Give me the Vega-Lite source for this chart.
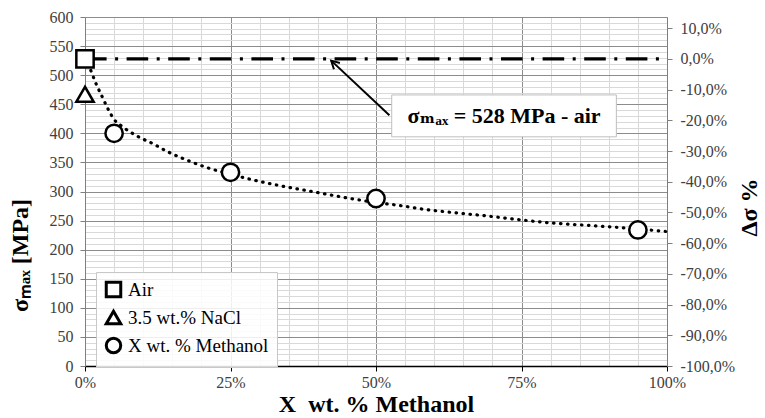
{
  "$schema": "https://vega.github.io/schema/vega-lite/v6.json",
  "width": 582,
  "height": 349,
  "autosize": {"type": "none"},
  "padding": {"left": 85, "top": 17, "right": 98, "bottom": 52},
  "background": "white",
  "config": {
    "font": "Liberation Serif",
    "view": {"stroke": null},
    "axis": {
      "labelFont": "Liberation Serif",
      "labelFontSize": 16,
      "labelColor": "#404040",
      "titleFont": "Liberation Serif",
      "titleFontSize": 24,
      "titleFontWeight": "bold",
      "titleColor": "black",
      "tickColor": "#7f7f7f",
      "domainColor": "#7f7f7f",
      "tickSize": 5
    },
    "legend": {
      "symbolFillColor": "white",
      "symbolStrokeColor": "black",
      "symbolStrokeWidth": 3,
      "symbolOpacity": 1
    }
  },
  "datasets": {
    "pts": [
      {"series": "Air", "x": 0, "y": 528},
      {"series": "3.5 wt.% NaCl", "x": 0, "y": 467},
      {"series": "X wt. % Methanol", "x": 5, "y": 400},
      {"series": "X wt. % Methanol", "x": 25, "y": 333},
      {"series": "X wt. % Methanol", "x": 50, "y": 288},
      {"series": "X wt. % Methanol", "x": 95, "y": 234}
    ],
    "airline": [
      {"x": 0, "y": 528},
      {"x": 100, "y": 528}
    ],
    "trend": [
      {"x": 1, "y": 508},
      {"x": 2, "y": 483},
      {"x": 3, "y": 462},
      {"x": 4, "y": 441},
      {"x": 5, "y": 424},
      {"x": 6.5, "y": 411},
      {"x": 9, "y": 395},
      {"x": 11.5, "y": 383},
      {"x": 14.5, "y": 367},
      {"x": 17.5, "y": 354},
      {"x": 21, "y": 341},
      {"x": 24.5, "y": 331},
      {"x": 28, "y": 322},
      {"x": 33, "y": 311},
      {"x": 39, "y": 300},
      {"x": 45, "y": 289},
      {"x": 50, "y": 281},
      {"x": 54, "y": 276},
      {"x": 58.5, "y": 269},
      {"x": 63, "y": 264},
      {"x": 69, "y": 258},
      {"x": 75, "y": 251},
      {"x": 80, "y": 246},
      {"x": 86, "y": 242},
      {"x": 92, "y": 238},
      {"x": 100, "y": 231}
    ],
    "note": [
      {"x1": 52.7, "x2": 91.3, "y1": 394, "y2": 466, "xt": 72, "yt": 429, "label": "σₘₐₓ = 528 MPa - air", "ax1": 52.3, "ay1": 431, "ax2": 42.3, "ay2": 525}
    ],
    "right": [
      {"v": -100},
      {"v": 10}
    ]
  },
  "layer": [
    {
      "layer": [
        {
          "data": {"name": "pts"},
          "mark": {"type": "point", "opacity": 0},
          "encoding": {
            "x": {
              "field": "x", "type": "quantitative",
              "scale": {"domain": [0, 100], "nice": false, "zero": false},
              "axis": {
                "orient": "bottom",
                "values": [0,5,10,15,20,25,30,35,40,45,50,55,60,65,70,75,80,85,90,95,100],
                "grid": true, "gridColor": "#d9d9d9", "gridWidth": 1,
                "labels": false, "ticks": false, "domain": false, "title": null
              }
            },
            "y": {
              "field": "y", "type": "quantitative",
              "scale": {"domain": [0, 600], "nice": false, "zero": false},
              "axis": {
                "orient": "left",
                "values": [0,10,20,30,40,50,60,70,80,90,100,110,120,130,140,150,160,170,180,190,200,210,220,230,240,250,260,270,280,290,300,310,320,330,340,350,360,370,380,390,400,410,420,430,440,450,460,470,480,490,500,510,520,530,540,550,560,570,580,590,600],
                "grid": true, "gridColor": "#d9d9d9", "gridWidth": 1,
                "labels": false, "ticks": false, "domain": false, "title": null
              }
            }
          }
        },
        {
          "data": {"name": "pts"},
          "mark": {"type": "point", "opacity": 0},
          "encoding": {
            "x": {
              "field": "x", "type": "quantitative",
              "axis": {
                "orient": "bottom",
                "values": [0, 25, 50, 75, 100],
                "labelExpr": "datum.value + '%'",
                "labelFlush": false,
                "grid": true, "gridColor": "#8c8c8c", "gridWidth": 1,
                "domainColor": "black", "domainWidth": 1.5, "tickColor": "black",
                "labelPadding": 3,
                "title": "X\u00a0\u00a0wt. % Methanol",
                "titlePadding": 2
              }
            },
            "y": {
              "field": "y", "type": "quantitative",
              "axis": {
                "orient": "left",
                "values": [0, 50, 100, 150, 200, 250, 300, 350, 400, 450, 500, 550, 600],
                "grid": true, "gridColor": "#8c8c8c", "gridWidth": 1,
                "labelPadding": 7,
                "title": "σₘₐₓ [MPa]",
                "titleAngle": 270,
                "titleX": -65,
                "titleY": 238,
                "titleAlign": "center",
                "titleBaseline": "middle"
              }
            }
          }
        },
        {
          "data": {"name": "airline"},
          "mark": {"type": "line", "color": "black", "strokeWidth": 3.3, "strokeDash": [21.6, 8.5, 3, 8.5]},
          "encoding": {
            "x": {"field": "x", "type": "quantitative", "axis": null},
            "y": {"field": "y", "type": "quantitative", "axis": null}
          }
        },
        {
          "data": {"name": "trend"},
          "mark": {"type": "line", "color": "black", "strokeWidth": 3.2, "strokeCap": "round", "strokeDash": [0.5, 6.5], "interpolate": "monotone"},
          "encoding": {
            "x": {"field": "x", "type": "quantitative", "axis": null},
            "y": {"field": "y", "type": "quantitative", "axis": null}
          }
        },
        {
          "data": {"name": "note"},
          "mark": {"type": "rule", "color": "black", "strokeWidth": 2},
          "encoding": {
            "x": {"field": "ax1", "type": "quantitative", "axis": null},
            "y": {"field": "ay1", "type": "quantitative", "axis": null},
            "x2": {"field": "ax2"},
            "y2": {"field": "ay2"}
          }
        },
        {
          "data": {"name": "note"},
          "mark": {"type": "point", "shape": "M-0.55,1L0,0L0.55,1", "filled": false, "stroke": "black", "strokeWidth": 2, "size": 250, "angle": 313.5, "opacity": 1},
          "encoding": {
            "x": {"field": "ax2", "type": "quantitative", "axis": null},
            "y": {"field": "ay2", "type": "quantitative", "axis": null}
          }
        },
        {
          "data": {"name": "note"},
          "mark": {"type": "rect", "fill": "white", "stroke": "#bfbfbf", "strokeWidth": 1},
          "encoding": {
            "x": {"field": "x1", "type": "quantitative", "axis": null},
            "x2": {"field": "x2"},
            "y": {"field": "y1", "type": "quantitative", "axis": null},
            "y2": {"field": "y2"}
          }
        },
        {
          "data": {"name": "note"},
          "mark": {"type": "text", "font": "Liberation Serif, DejaVu Serif, serif", "fontSize": 22, "fontWeight": "bold", "color": "black", "baseline": "middle", "align": "center"},
          "encoding": {
            "x": {"field": "xt", "type": "quantitative", "axis": null},
            "y": {"field": "yt", "type": "quantitative", "axis": null},
            "text": {"field": "label"}
          }
        },
        {
          "data": {"name": "pts"},
          "mark": {"type": "point", "filled": false, "fill": "white", "strokeWidth": 2.5, "size": 300, "opacity": 1},
          "encoding": {
            "x": {"field": "x", "type": "quantitative", "axis": null},
            "y": {"field": "y", "type": "quantitative", "axis": null},
            "stroke": {
              "field": "series", "type": "nominal",
              "scale": {"domain": ["Air", "3.5 wt.% NaCl", "X wt. % Methanol"], "range": ["black", "black", "black"]},
              "legend": {
                "orient": "none", "legendX": 11, "legendY": 255,
                "title": null,
                "fillColor": "rgba(255,255,255,0.85)",
                "strokeColor": "#c8c8c8",
                "padding": 8,
                "symbolFillColor": "white",
                "symbolStrokeWidth": 3,
                "symbolSize": 210,
                "labelFont": "Liberation Serif",
                "labelFontSize": 19,
                "labelColor": "black",
                "labelOffset": 5,
                "rowPadding": 2
              }
            },
            "shape": {
              "field": "series", "type": "nominal",
              "scale": {"domain": ["Air", "3.5 wt.% NaCl", "X wt. % Methanol"], "range": ["square", "triangle-up", "circle"]},
              "legend": {
                "orient": "none", "legendX": 11, "legendY": 255,
                "title": null,
                "fillColor": "rgba(255,255,255,0.85)",
                "strokeColor": "#c8c8c8",
                "padding": 8,
                "symbolFillColor": "white",
                "symbolStrokeWidth": 3,
                "symbolSize": 210,
                "labelFont": "Liberation Serif",
                "labelFontSize": 19,
                "labelColor": "black",
                "labelOffset": 5,
                "rowPadding": 2
              }
            }
          }
        }
      ],
      "resolve": {"axis": {"x": "independent", "y": "independent"}}
    },
    {
      "data": {"name": "right"},
      "mark": {"type": "point", "opacity": 0},
      "encoding": {
        "y": {
          "field": "v", "type": "quantitative",
          "scale": {"domain": [-100, 13.636], "nice": false, "zero": false},
          "axis": {
            "orient": "right",
            "values": [-100, -90, -80, -70, -60, -50, -40, -30, -20, -10, 0, 10],
            "labelExpr": "(datum.value < 0 ? '-' : '') + replace(format(abs(datum.value), '.1f'), '.', ',') + '%'",
            "grid": false,
            "labelPadding": 8,
            "title": "Δσ\u00a0%",
            "titleAngle": 270,
            "titleX": 82,
            "titleY": 190,
            "titleAlign": "center",
            "titleBaseline": "middle"
          }
        }
      }
    }
  ],
  "resolve": {"scale": {"y": "independent"}, "axis": {"x": "independent", "y": "independent"}}
}
